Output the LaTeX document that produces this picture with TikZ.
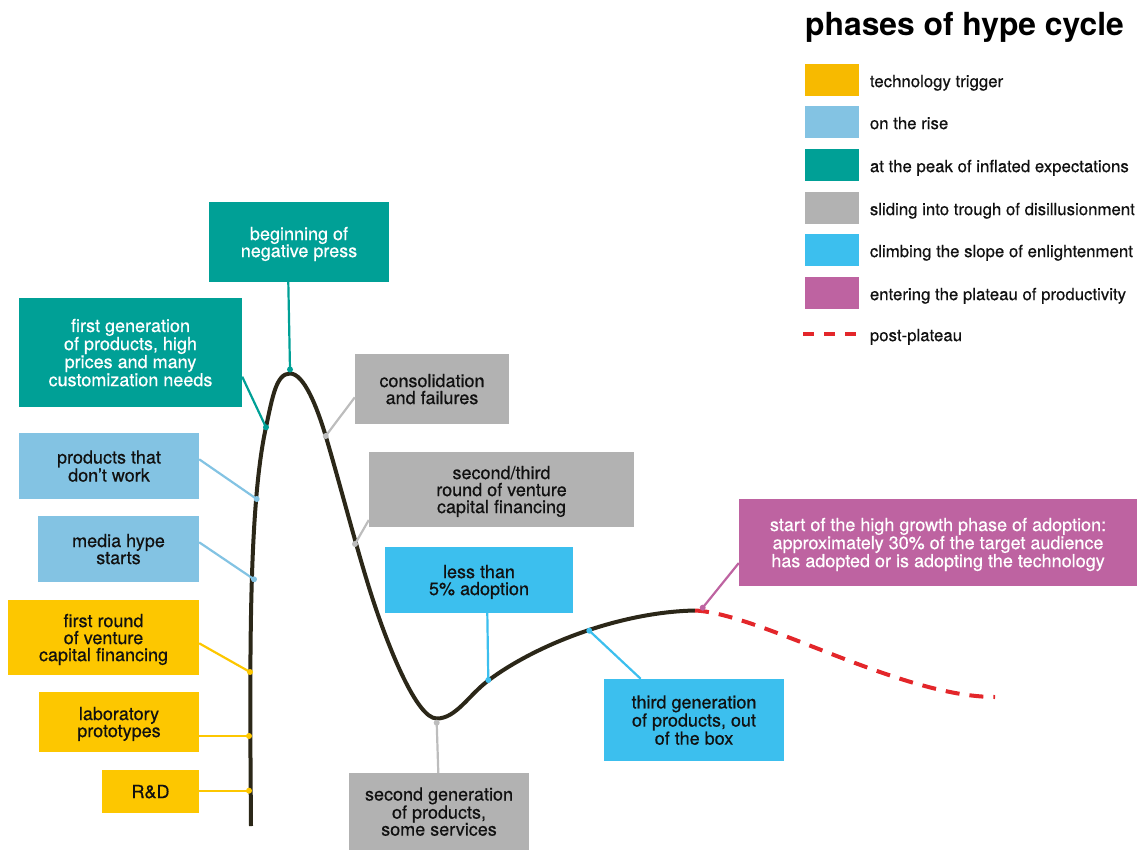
\documentclass[tikz,border=0pt]{standalone}
\usepackage{fontspec}
\setmainfont{TeX Gyre Heros}
\newfontfamily\hcTextFam{TeX Gyre Heros}[FakeBold=0.5]
\usetikzlibrary{calc}

\definecolor{trigbox}{HTML}{FDC700}
\definecolor{triglg}{HTML}{F7BA00}
\definecolor{rise}{HTML}{83C3E3}
\definecolor{peak}{HTML}{00A096}
\definecolor{slide}{HTML}{B2B2B2}
\definecolor{slideln}{HTML}{BDBDBD}
\definecolor{climb}{HTML}{3CBFEE}
\definecolor{plat}{HTML}{BE63A1}
\definecolor{curvecol}{HTML}{2B2718}
\definecolor{postred}{HTML}{E3262A}
\definecolor{ink}{HTML}{111111}

\newcommand\hcBoxFont{\hcTextFam\fontsize{18pt}{17pt}\selectfont}
\newcommand\hcLegFont{\hcTextFam\fontsize{16.8pt}{18pt}\selectfont}
\newcommand\hcTitleFont{\fontsize{31.8pt}{34pt}\selectfont\bfseries}

\begin{document}
\begin{tikzpicture}[x=1pt,y=-1pt,
  phasebox/.style={inner sep=0pt, align=center, font=\hcBoxFont, text=ink, text depth=0pt},
  lightlabel/.style={text=white},
  link/.style={line width=2.2pt},
  curveline/.style={draw=curvecol, line width=4pt, line join=round},
  postline/.style={draw=postred, line width=4pt, dash pattern=on 14pt off 10pt},
  swatch/.style={inner sep=0pt, minimum width=54pt, minimum height=32pt},
  legtext/.style={anchor=base west, inner sep=0pt, font=\hcLegFont, text=ink}]

\useasboundingbox (0,0) rectangle (1147,850);

% ---- title and legend ----
\node[anchor=base west, inner sep=0pt, font=\hcTitleFont, text=black] (title) at (805,36) {phases of hype cycle};

\node[swatch, fill=triglg] (lg1) at (832,79.8) {};
\node[swatch, fill=rise]   (lg2) at (832,121.8) {};
\node[swatch, fill=peak]   (lg3) at (832,164.8) {};
\node[swatch, fill=slide]  (lg4) at (832,207.8) {};
\node[swatch, fill=climb]  (lg5) at (832,249.8) {};
\node[swatch, fill=plat]   (lg6) at (832,292.8) {};
\coordinate (lg7a) at (803,334);
\coordinate (lg7b) at (858,334);
\draw[draw=postred, line width=3.5pt, dash pattern=on 11pt off 10pt] (lg7a) -- (lg7b);

\node[legtext] (lt1) at (869.7,87.1)  {technology trigger};
\node[legtext] (lt2) at (869.7,129.1) {on the rise};
\node[legtext] (lt3) at (869.7,172.1) {at the peak of inflated expectations};
\node[legtext] (lt4) at (869.7,215.1) {sliding into trough of disillusionment};
\node[legtext] (lt5) at (869.7,257.1) {climbing the slope of enlightenment};
\node[legtext] (lt6) at (869.7,300.1) {entering the plateau of productivity};
\node[legtext] (lt7) at (869.7,341.1) {post-plateau};

% ---- phase boxes ----
\node[phasebox, lightlabel, fill=peak, minimum width=180pt, minimum height=80pt] (negpress) at (299,242) {beginning of\\negative press};
\node[phasebox, lightlabel, fill=peak, minimum width=223pt, minimum height=109pt] (firstgen) at (130.5,352.5) {first generation\\of products, high\\prices and many\\customization needs};
\node[phasebox, fill=slide, minimum width=154pt, minimum height=70pt] (consol) at (432,389) {consolidation\\and failures};
\node[phasebox, fill=rise, minimum width=180pt, minimum height=66pt] (notwork) at (109,466) {products that\\don’t work};
\node[phasebox, fill=rise, minimum width=161pt, minimum height=66pt] (media) at (118.5,549) {media hype\\starts};
\node[phasebox, fill=trigbox, minimum width=191pt, minimum height=75pt] (firstround) at (103.5,637.5) {first round\\of venture\\capital financing};
\node[phasebox, fill=trigbox, minimum width=160pt, minimum height=60pt] (lab) at (119,722) {laboratory\\prototypes};
\node[phasebox, fill=trigbox, minimum width=97pt, minimum height=43pt] (rd) at (150.5,791.5) {R\&D};
\node[phasebox, fill=slide, minimum width=265pt, minimum height=75pt] (secthird) at (501.5,489.5) {second/third\\round of venture\\capital financing};
\node[phasebox, fill=climb, minimum width=188pt, minimum height=66pt] (less) at (479,580) {less than\\5\% adoption};
\node[phasebox, fill=slide, minimum width=180pt, minimum height=77pt] (secgen) at (439,811.5) {second generation\\of products,\\some services};
\node[phasebox, fill=climb, minimum width=180pt, minimum height=82pt] (thirdgen) at (694,720) {third generation\\of products, out\\of the box};
\node[phasebox, lightlabel, fill=plat, minimum width=398pt, minimum height=87pt] (adopt) at (938,542.5) {start of the high growth phase of adoption:\\approximately 30\% of the target audience\\has adopted or is adopting the technology};

% ---- the hype curve ----
\coordinate (c0) at (251,826);      % start, bottom left
\coordinate (c1) at (266,427);
\coordinate (c2) at (290,373.5);    % peak
\coordinate (c3) at (325.7,436);
\coordinate (c4) at (373,600);
\coordinate (c5) at (436.7,718.5);  % trough
\coordinate (c6) at (488.3,680.5);
\coordinate (c7) at (695,610.5);    % plateau
\coordinate (c8) at (995,697);      % end of post-plateau
\draw[curveline] (c0)
  .. controls (249.5,650) and (249,505) .. (c1)
  .. controls (272.4,397.7) and (276,373.5) .. (c2)
  .. controls (304,373.5) and (317.1,407.3) .. (c3)
  .. controls (340,483.9) and (357.5,552.5) .. (c4)
  .. controls (388.5,647.5) and (416.7,718.5) .. (c5)
  .. controls (456,718.5) and (468.3,695.5) .. (c6)
  .. controls (536.3,644.5) and (620,612) .. (c7);
\draw[postline] (c7) .. controls (760,613.5) and (900,697) .. (c8);

% ---- points on the curve ----
\coordinate (d1)  at (290,369.5);
\coordinate (d2)  at (266,427.3);
\coordinate (d3)  at (325.7,436);
\coordinate (d4)  at (256.7,499);
\coordinate (d5)  at (254,579.3);
\coordinate (d6)  at (250,672);
\coordinate (d7)  at (249,736);
\coordinate (d8)  at (249,790.7);
\coordinate (d9)  at (355,544);
\coordinate (d10) at (488.3,680);
\coordinate (d11) at (436.7,722.7);
\coordinate (d12) at (589.3,630.7);
\coordinate (d13) at (702.7,607.7);

% ---- connectors ----
\draw[link, peak]    ([xshift=-10.7pt]negpress.south) -- (d1);
\draw[link, peak]    ([yshift=-24.2pt]firstgen.east) -- (d2);
\draw[link, slideln] ([yshift=-8.3pt]consol.west) -- (d3);
\draw[link, rise]    ([yshift=6.7pt]notwork.east) -- (d4);
\draw[link, rise]    ([yshift=6.7pt]media.east) -- (d5);
\draw[link, trigbox] ([yshift=-5.8pt]firstround.east) -- (d6);
\draw[link, trigbox] ([yshift=-14pt]lab.east) -- (d7);
\draw[link, trigbox] ([yshift=0.8pt]rd.east) -- (d8);
\draw[link, slideln] ([yshift=-30.5pt]secthird.west) -- (d9);
\draw[link, climb]   ([xshift=8.3pt]less.south) -- (d10);
\draw[link, slideln] ([xshift=-0.7pt]secgen.north) -- (d11);
\draw[link, climb]   ([xshift=-53.3pt]thirdgen.north) -- (d12);
\draw[link, plat]    ([yshift=-20.5pt]adopt.west) -- (d13);

\foreach \d/\c in {d1/peak, d2/peak, d3/slideln, d4/rise, d5/rise, d6/trigbox,
                   d7/trigbox, d8/trigbox, d9/slideln, d10/climb, d11/slideln,
                   d12/climb, d13/plat}
  \fill[\c] (\d) circle[radius=3pt];
\end{tikzpicture}
\end{document}
